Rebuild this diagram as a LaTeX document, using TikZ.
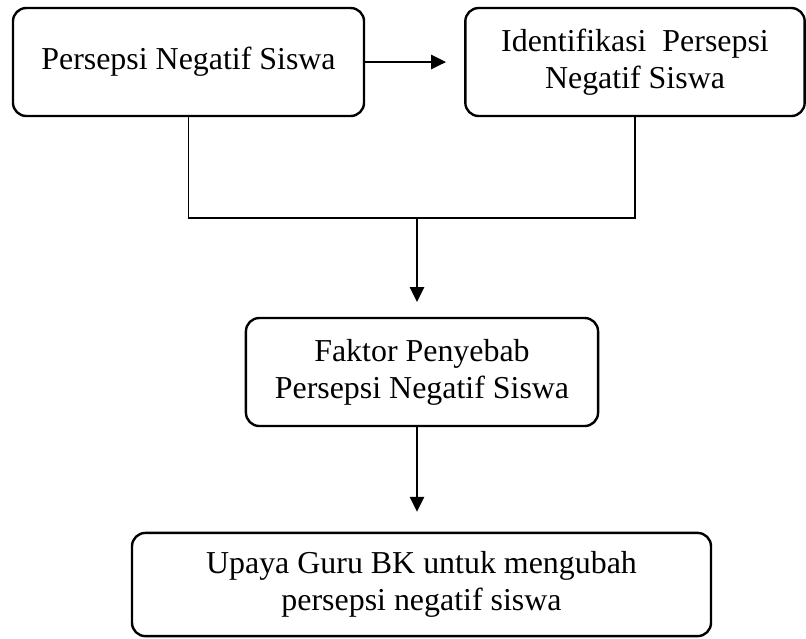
\documentclass[tikz,border=0pt]{standalone}
\usepackage{fontspec}
\setmainfont{Liberation Serif}
\usetikzlibrary{arrows.meta}

\begin{document}
\begin{tikzpicture}[x=0.376pt, y=-0.376pt,
    kotak/.style={draw, line width=0.9pt, rounded corners=5pt, align=center,
      inner sep=0pt, font=\fontsize{12}{13.9}\selectfont},
    panah/.style={-{Triangle[length=5.6pt, width=5.4pt]}, line width=0.5pt}]
    \useasboundingbox (0, 0) rectangle (806, 638);

    \node [kotak, minimum width=132pt, minimum height=40.6pt] (persepsi)
    at (188.5, 62) {Persepsi Negatif Siswa};

    \node [kotak, minimum width=127.6pt, minimum height=40.6pt] (identifikasi)
    at (635, 62) {Identifikasi\ \ Persepsi\\Negatif Siswa};

    \node [kotak, minimum width=132.4pt, minimum height=40.6pt] (faktor)
    at (422, 372) {Faktor Penyebab\\Persepsi Negatif Siswa};

    \node [kotak, minimum width=217.7pt, minimum height=38.8pt] (upaya)
    at (421.5, 584.5) {Upaya Guru BK untuk mengubah\\persepsi negatif siswa};

    \coordinate (gabung) at (417, 218);

    \draw [panah, shorten >=6.8pt] (persepsi) -- (identifikasi);

    % garis dari kedua kotak atas ke titik gabung
    \draw [line width=0.5pt] (persepsi.south) |- (gabung) -| (identifikasi.south);

    \draw [panah, shorten >=5.6pt] (gabung) -- (gabung |- faktor.north);

    \draw [panah, shorten >=7.5pt] (faktor.south -| gabung) -- (gabung |- upaya.north);

\end{tikzpicture}
\end{document}
